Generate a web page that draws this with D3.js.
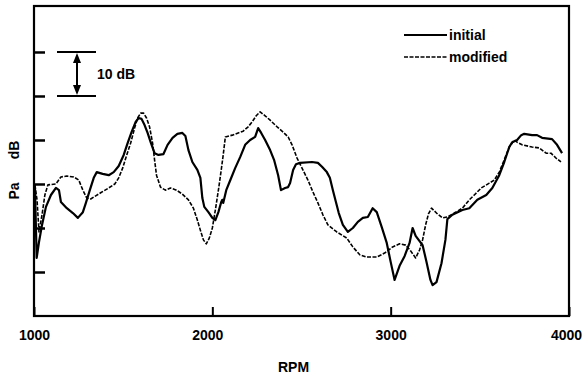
<!DOCTYPE html>
<html>
<head>
<meta charset="utf-8">
<script src="https://cdn.jsdelivr.net/npm/d3@7"></script>
<style>
  html, body { margin: 0; padding: 0; background: #fff; }
  svg { display: block; }
  text { font-family: "Liberation Sans", Arial, sans-serif; font-weight: bold; fill: #000; }
</style>
</head>
<body>
<svg id="chart" width="588" height="377"></svg>
<script>
// ---- data (RPM, level in dB on an arbitrary reference) ----
const initialRpm = [1005,1015,1028,1045,1067,1095,1123,1140,1151,1184,1218,1246,1274,1291,1313,1335,1352,1385,1419,1447,1475,1503,1525,1547,1570,1587,1603,1620,1637,1654,1676,1698,1726,1749,1777,1804,1832,1849,1866,1888,1916,1933,1944,1955,1978,2000,2017,2034,2050,2056,2061,2078,2101,2128,2156,2184,2212,2240,2257,2274,2296,2324,2346,2369,2385,2408,2425,2436,2453,2469,2492,2559,2592,2615,2642,2659,2676,2693,2709,2732,2760,2788,2816,2844,2872,2899,2922,2950,2978,3000,3022,3050,3078,3106,3123,3140,3162,3179,3201,3223,3235,3257,3285,3307,3318,3346,3402,3441,3486,3536,3570,3609,3637,3665,3682,3709,3732,3749,3793,3821,3849,3905,3933,3961];
const initialDb = [29.8,13.2,16.8,20.7,24.8,27.5,29.1,28.6,25.9,24.5,23.4,22.3,23.6,25.7,28.6,31.4,32.7,32.3,32.0,32.7,34.1,36.6,39.3,41.8,44.1,45.0,44.8,43.4,41.6,39.5,37.0,36.6,36.8,38.9,40.5,41.4,41.6,40.9,37.7,35.0,33.2,31.4,26.8,24.8,23.6,22.3,21.8,23.6,25.9,26.4,25.7,28.6,30.9,33.6,36.1,38.9,40.0,40.7,42.7,41.6,40.0,37.7,35.5,32.0,28.6,29.1,29.3,30.2,33.2,34.5,34.8,35.0,34.8,33.9,32.7,31.4,28.6,25.9,23.4,20.7,19.1,20.0,21.4,22.3,22.5,24.5,23.6,20.2,16.6,12.3,8.2,11.4,13.6,16.6,20.0,18.2,17.0,16.1,12.3,8.2,7.0,7.7,12.0,17.3,22.0,23.0,24.1,24.5,26.4,27.5,29.1,32.0,35.0,38.4,39.5,40.0,41.1,41.4,41.1,41.1,40.5,40.2,38.9,37.0];

const modifiedRpm = [1005,1017,1028,1045,1061,1078,1123,1151,1184,1223,1251,1274,1296,1318,1346,1374,1419,1453,1475,1497,1520,1542,1564,1581,1598,1615,1631,1648,1665,1676,1687,1709,1737,1765,1799,1832,1866,1894,1916,1933,1950,1966,1983,2000,2017,2034,2050,2061,2073,2112,2145,2173,2201,2223,2246,2268,2296,2324,2363,2397,2425,2447,2475,2503,2536,2564,2592,2620,2648,2698,2754,2788,2827,2866,2922,2966,3011,3050,3084,3112,3140,3162,3179,3196,3212,3229,3257,3291,3318,3357,3402,3441,3469,3508,3553,3581,3609,3637,3665,3693,3709,3737,3793,3832,3872,3899,3927,3955];
const modifiedDb = [29.8,26.4,19.1,23.0,27.5,29.8,30.0,31.6,31.8,31.6,30.9,28.6,26.8,26.6,27.3,28.0,29.1,30.0,31.4,33.6,36.6,39.3,42.7,45.0,46.1,46.1,45.0,43.0,39.3,35.5,32.0,29.3,28.6,29.1,28.6,27.7,26.4,24.5,21.8,19.5,17.3,16.4,17.7,20.0,24.1,28.6,33.2,36.6,40.7,41.1,41.6,42.0,43.0,44.1,45.5,46.4,45.5,44.5,43.0,41.8,40.7,38.9,35.9,33.6,30.9,28.2,25.7,23.0,20.7,19.1,17.7,15.7,13.9,13.4,13.4,14.3,15.7,16.4,16.1,14.8,13.2,15.0,17.3,20.7,23.2,24.5,23.4,22.3,22.5,23.4,24.5,26.4,27.5,29.1,30.2,30.9,32.7,35.5,38.4,40.0,39.5,38.9,38.4,38.2,37.0,37.0,35.9,35.0];

const xTickValues = [1000, 2000, 3000, 4000];
const yTickValues = [10, 20, 30, 40, 50, 60];
const seriesNames = ["initial", "modified"];
const scaleBarDb = [50, 60];
const scaleBarLabel = "10 dB";
const xTitle = "RPM";
const yTitleParts = ["Pa", "dB"];

// ---- layout ----
const svg = d3.select("#chart");
const L = 34, R = 569, T = 6, B = 316;
const x = d3.scaleLinear().domain([1000, 4000]).range([L, R]);
const y = d3.scaleLinear().domain([0, 70.45]).range([B, T]);

const initial = initialRpm.map((r, i) => [r, initialDb[i]]);
const modified = modifiedRpm.map((r, i) => [r, modifiedDb[i]]);

const line = d3.line().x(d => x(d[0])).y(d => y(d[1]));

// curves
svg.append("path").datum(modified)
  .attr("d", line).attr("fill", "none").attr("stroke", "#000")
  .attr("stroke-width", 1.6).attr("stroke-dasharray", "4,1.5")
  .attr("stroke-linejoin", "round");
svg.append("path").datum(initial)
  .attr("d", line).attr("fill", "none").attr("stroke", "#000")
  .attr("stroke-width", 2.2).attr("stroke-linejoin", "round");

// frame
svg.append("rect").attr("x", L).attr("y", T).attr("width", R - L).attr("height", B - T)
  .attr("fill", "none").attr("stroke", "#000").attr("stroke-width", 2.2);

// x axis (ticks inward)
const xAxis = d3.axisBottom(x).tickValues(xTickValues).tickSizeInner(-9).tickSizeOuter(0).tickPadding(14)
  .tickFormat(d3.format("d"));
const gx = svg.append("g").attr("transform", `translate(0,${B})`).call(xAxis);
gx.select(".domain").remove();
gx.selectAll(".tick line").attr("stroke", "#000").attr("stroke-width", 2);
gx.selectAll(".tick text").style("font-size", "14px").style("font-family", "Liberation Sans, Arial, sans-serif")
  .style("font-weight", "bold").attr("fill", "#000").attr("dx", d => d === 2000 ? -5 : (d === 4000 ? -3 : 0));

// y axis (ticks inward, no labels)
const yAxis = d3.axisLeft(y).tickValues(yTickValues).tickSizeInner(-11).tickSizeOuter(0).tickFormat("");
const gy = svg.append("g").attr("transform", `translate(${L},0)`).call(yAxis);
gy.select(".domain").remove();
gy.selectAll(".tick line").attr("stroke", "#000").attr("stroke-width", 2.5);

// scale bar
const sbX1 = 57, sbX2 = 96, sbMid = 77;
scaleBarDb.forEach(v => {
  svg.append("line").attr("x1", sbX1).attr("x2", sbX2).attr("y1", y(v)).attr("y2", y(v))
    .attr("stroke", "#000").attr("stroke-width", 2);
});
svg.append("line").attr("x1", sbMid).attr("x2", sbMid).attr("y1", y(scaleBarDb[1]) + 6).attr("y2", y(scaleBarDb[0]) - 6)
  .attr("stroke", "#000").attr("stroke-width", 2);
const ya = y(scaleBarDb[1]), yb = y(scaleBarDb[0]);
svg.append("path").attr("d", `M${sbMid},${ya + 1} L${sbMid - 4},${ya + 11} L${sbMid + 4},${ya + 11} Z`).attr("fill", "#000");
svg.append("path").attr("d", `M${sbMid},${yb - 1} L${sbMid - 4},${yb - 11} L${sbMid + 4},${yb - 11} Z`).attr("fill", "#000");
svg.append("text").attr("x", 97).attr("y", (ya + yb) / 2 + 5).style("font-size", "14px").text(scaleBarLabel);

// legend
const legY = [35, 57];
seriesNames.forEach((name, i) => {
  const l = svg.append("line").attr("x1", 404).attr("x2", 447).attr("y1", legY[i]).attr("y2", legY[i])
    .attr("stroke", "#000").attr("stroke-width", i === 0 ? 1.8 : 1.4);
  if (i === 1) l.attr("stroke-dasharray", "4,1.5");
  svg.append("text").attr("x", 449).attr("y", legY[i] + 5).style("font-size", "14px").text(name);
});

// titles
svg.append("text").attr("x", (x(2000) + x(3000)) / 2 - 8).attr("y", 372).attr("text-anchor", "middle")
  .style("font-size", "14px").text(xTitle);
[[yTitleParts[0], 191], [yTitleParts[1], 150]].forEach(([t, cy]) => {
  svg.append("text").attr("transform", `translate(19,${cy}) rotate(-90)`).attr("text-anchor", "middle")
    .style("font-size", "14px").text(t);
});
</script>
</body>
</html>
